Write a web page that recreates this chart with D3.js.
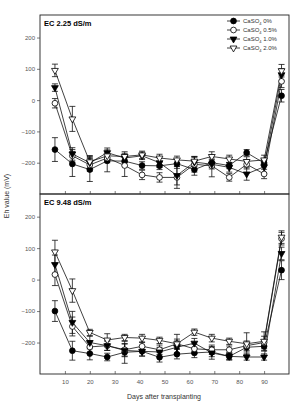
<!DOCTYPE html>
<html>
<head>
<meta charset="utf-8">
<script src="https://cdn.jsdelivr.net/npm/d3@7"></script>
<style>
  body { margin: 0; background: #fff; }
  svg { display: block; font-family: "Liberation Sans", Arial, sans-serif; }
</style>
</head>
<body>
<svg id="chart" width="292" height="405"></svg>
<script>
// Sampling days
const days = [6, 13, 20, 27, 34, 41, 48, 55, 62, 69, 76, 83, 90, 97];
const xTicks = [10, 20, 30, 40, 50, 60, 70, 80, 90];
const yTicks = [-200, -100, 0, 100, 200];

const seriesNames = ['CaSO4 0%', 'CaSO4 0.5%', 'CaSO4 1.0%', 'CaSO4 2.0%'];
const panelTitles = ['EC 2.25 dS/m', 'EC 9.48 dS/m'];

// EC 2.25 dS/m
const lowCa0  = [-158, -204, -222, -194, -195, -209, -210, -203, -222, -200, -209, -168, -201, 14];
const lowCa05 = [-10, -178, -207, -185, -209, -239, -247, -247, -205, -210, -247, -205, -236, 60];
const lowCa10 = [40, -172, -200, -168, -185, -178, -200, -241, -198, -205, -215, -236, -213, 81];
const lowCa20 = [95, -60, -197, -178, -180, -175, -185, -191, -195, -180, -188, -196, -191, 94];
const lowErr0  = [38, 40, 38, 35, 15, 12, 12, 15, 18, 15, 10, 10, 12, 20];
const lowErr05 = [15, 20, 20, 15, 35, 15, 15, 35, 25, 35, 12, 15, 15, 20];
const lowErr10 = [12, 20, 20, 15, 15, 12, 15, 30, 15, 15, 15, 20, 20, 20];
const lowErr20 = [20, 40, 20, 12, 15, 12, 12, 12, 15, 15, 12, 15, 15, 20];

// EC 9.48 dS/m
const highCa0  = [-100, -226, -235, -246, -231, -228, -247, -237, -233, -230, -244, -215, -212, 30];
const highCa05 = [16, -149, -214, -210, -223, -212, -223, -204, -220, -223, -223, -210, -200, 130];
const highCa10 = [48, -136, -200, -210, -225, -228, -230, -215, -202, -233, -244, -246, -246, 83];
const highCa20 = [88, -35, -168, -192, -184, -186, -193, -204, -167, -186, -196, -204, -196, 135];
const highErr0  = [33, 30, 20, 12, 35, 15, 15, 15, 15, 15, 12, 15, 15, 30];
const highErr05 = [35, 30, 20, 15, 20, 12, 15, 15, 15, 15, 12, 15, 20, 20];
const highErr10 = [30, 35, 20, 15, 20, 15, 15, 20, 15, 20, 10, 10, 10, 20];
const highErr20 = [37, 37, 10, 20, 10, 12, 10, 30, 10, 12, 10, 35, 30, 20];

const panels = [
    { title: panelTitles[0], top: 15, bottom: 194,
      series: [[lowCa0, lowErr0], [lowCa05, lowErr05], [lowCa10, lowErr10], [lowCa20, lowErr20]] },
    { title: panelTitles[1], top: 194, bottom: 374,
      series: [[highCa0, highErr0], [highCa05, highErr05], [highCa10, highErr10], [highCa20, highErr20]] }
];

// marker shapes: filled circle, open circle, filled triangle, open triangle
const markers = [
    { type: d3.symbolCircle, size: 26, fill: '#000' },
    { type: d3.symbolCircle, size: 26, fill: '#fff' },
    { type: d3.symbolTriangle, size: 20, fill: '#000' },
    { type: d3.symbolTriangle, size: 20, fill: '#fff' }
];

const svg = d3.select('#chart');
const left = 40, right = 289;
const x = d3.scaleLinear().domain([0, 100]).range([left, right]);

function drawMarker(g, m, px, py) {
    g.append('path')
        .attr('d', d3.symbol().type(m.type).size(m.size)())
        .attr('transform', m.type === d3.symbolTriangle
            ? `translate(${px},${py}) rotate(180)`
            : `translate(${px},${py})`)
        .attr('fill', m.fill)
        .attr('stroke', '#000')
        .attr('stroke-width', 0.8);
}

panels.forEach((p, pi) => {
    const y = d3.scaleLinear().domain([-300, 272]).range([p.bottom, p.top]);
    const g = svg.append('g');

    // frame
    g.append('rect')
        .attr('x', left).attr('y', p.top)
        .attr('width', right - left).attr('height', p.bottom - p.top)
        .attr('fill', 'none').attr('stroke', '#222').attr('stroke-width', 0.9);

    // y axis
    const ya = g.append('g')
        .attr('transform', `translate(${left},0)`)
        .call(d3.axisLeft(y).tickValues(yTicks).tickSize(3).tickPadding(2));
    ya.select('.domain').remove();
    ya.selectAll('line').attr('stroke', '#444').attr('stroke-width', 0.7);
    ya.selectAll('text').attr('font-size', 6).attr('fill', '#555').attr('font-family', null);

    // x axis, ticks pointing inwards
    const xa = g.append('g')
        .attr('transform', `translate(0,${p.bottom})`)
        .call(d3.axisBottom(x).tickValues(xTicks).tickSize(-3).tickPadding(6));
    xa.select('.domain').remove();
    xa.selectAll('line').attr('stroke', '#444').attr('stroke-width', 0.7);
    xa.selectAll('text').attr('font-size', 6).attr('fill', '#555').attr('font-family', null);
    if (pi === 0) xa.selectAll('text').remove();

    g.append('text')
        .attr('x', 44).attr('y', p.top + 11)
        .attr('font-size', 7.5).attr('font-weight', 'bold')
        .text(p.title);

    const line = d3.line().x((d, i) => x(days[i])).y(d => y(d));

    p.series.forEach(([vals, errs]) => {
        g.append('path')
            .attr('d', line(vals))
            .attr('fill', 'none').attr('stroke', '#111').attr('stroke-width', 0.8);
        vals.forEach((v, i) => {
            const px = x(days[i]);
            g.append('line')
                .attr('x1', px).attr('x2', px)
                .attr('y1', y(v - errs[i])).attr('y2', y(v + errs[i]))
                .attr('stroke', '#111').attr('stroke-width', 0.8);
            [v - errs[i], v + errs[i]].forEach(e => {
                g.append('line')
                    .attr('x1', px - 3).attr('x2', px + 3)
                    .attr('y1', y(e)).attr('y2', y(e))
                    .attr('stroke', '#111').attr('stroke-width', 0.8);
            });
        });
    });

    p.series.forEach(([vals], si) => {
        vals.forEach((v, i) => drawMarker(g, markers[si], x(days[i]), y(v)));
    });
});

// legend
const legend = svg.append('g');
seriesNames.forEach((name, i) => {
    const ly = 21 + i * 9;
    legend.append('line')
        .attr('x1', 227).attr('x2', 240).attr('y1', ly).attr('y2', ly)
        .attr('stroke', '#111').attr('stroke-width', 0.8);
    drawMarker(legend, markers[i], 233.5, ly);
    const parts = name.split('4');
    const t = legend.append('text')
        .attr('x', 243).attr('y', ly + 2)
        .attr('font-size', 6).attr('fill', '#333');
    t.append('tspan').text(parts[0]);
    t.append('tspan').attr('font-size', 4).attr('dy', 1.5).text('4');
    t.append('tspan').attr('dy', -1.5).text(parts[1]);
});

// axis titles
svg.append('text')
    .attr('transform', 'translate(9,196) rotate(-90)')
    .attr('text-anchor', 'middle')
    .attr('font-size', 7).attr('fill', '#333')
    .text('Eh value (mV)');

svg.append('text')
    .attr('x', 164).attr('y', 399)
    .attr('text-anchor', 'middle')
    .attr('font-size', 7).attr('fill', '#333')
    .text('Days after transplanting');
</script>
</body>
</html>
